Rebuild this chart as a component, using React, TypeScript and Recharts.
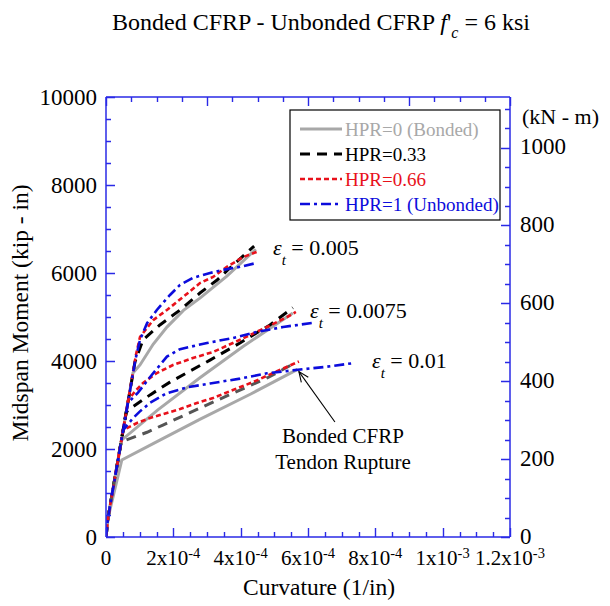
import React from 'react';
import { ComposedChart, Line, XAxis, YAxis } from 'recharts';

const FONT = "'Liberation Serif', 'Times New Roman', serif";
const AXIS_BLUE = '#2a2ae6';
const GRAY = '#a8a8a8';
const DARK = '#555555';
const RED = '#e8111b';
const BLUE = '#0c0cdc';

// curvature in 1e-4 (1/in), moment in kip-in
const E005_HPR0: [number, number][] = [[0, 0], [0.06, 430], [0.8, 3730], [1.01, 3910], [1.4, 4380], [1.81, 4770], [2.3, 5150], [2.79, 5430], [3.59, 5930], [4.45, 6540]];
const E005_HPR033: [number, number][] = [[0, 0], [0.06, 430], [0.86, 3980], [1.1, 4480], [1.6, 4820], [2.2, 5160], [2.79, 5545], [3.3, 5840], [3.77, 6180], [4.4, 6610]];
const E005_HPR066: [number, number][] = [[0, 0], [0.06, 430], [0.89, 4140], [1.01, 4545], [1.4, 4930], [1.81, 5160], [2.29, 5455], [2.79, 5770], [3.18, 5910], [3.59, 6140], [4.07, 6360], [4.48, 6480]];
const E005_HPR1: [number, number][] = [[0, 0], [0.06, 430], [0.87, 4020], [1.01, 4480], [1.22, 4860], [1.51, 5160], [1.9, 5500], [2.2, 5730], [2.58, 5890], [3.09, 6000], [3.48, 6070], [3.98, 6140], [4.48, 6230]];

const E0075_HPR0: [number, number][] = [[0, 0], [0.06, 430], [0.46, 2200], [1.54, 2890], [2.79, 3620], [4.07, 4330], [5.55, 5090]];
const E0075_HPR033: [number, number][] = [[0, 0], [0.06, 430], [0.6, 2840], [0.8, 2960], [1.31, 3230], [1.9, 3520], [2.49, 3770], [3.09, 4020], [3.98, 4410], [4.87, 4820], [5.55, 5210]];
const E0075_HPR066: [number, number][] = [[0, 0], [0.06, 430], [0.66, 3110], [0.85, 3300], [1.1, 3500], [1.51, 3727], [1.99, 3909], [2.58, 4068], [3.18, 4205], [3.77, 4409], [4.28, 4591], [4.78, 4773], [5.38, 5000], [5.64, 5114]];
const E0075_HPR1: [number, number][] = [[0, 0], [0.06, 430], [0.65, 3050], [0.95, 3280], [1.31, 3636], [1.81, 4100], [2.2, 4270], [3.0, 4409], [3.77, 4523], [4.48, 4659], [5.26, 4773], [6.12, 4864]];

const E001_HPR0: [number, number][] = [[0, 0], [0.06, 430], [0.47, 1750], [1.6, 2200], [2.8, 2680], [4.3, 3250], [5.69, 3810]];
const E001_HPR033: [number, number][] = [[0, 0], [0.06, 430], [0.45, 2160], [1.22, 2380], [1.69, 2545], [2.79, 2930], [3.98, 3340], [4.8, 3620], [5.6, 3950]];
const E001_HPR066: [number, number][] = [[0, 0], [0.06, 430], [0.51, 2430], [0.92, 2591], [1.31, 2705], [1.81, 2818], [2.2, 2909], [2.7, 3045], [3.18, 3159], [3.77, 3341], [4.37, 3523], [5.73, 3990]];
const E001_HPR1: [number, number][] = [[0, 0], [0.06, 430], [0.51, 2430], [0.8, 2700], [1.0, 2850], [1.31, 3050], [1.81, 3270], [2.41, 3400], [3.09, 3490], [3.98, 3600], [4.78, 3720], [5.7, 3800], [6.56, 3870], [7.33, 3950]];

const BOTTOM_TICK_LABELS = [['0', ''], ['2x10', '-4'], ['4x10', '-4'], ['6x10', '-4'], ['8x10', '-4'], ['1x10', '-3'], ['1.2x10', '-3']];
const TOP_TICK_LABELS = [['0', ''], ['1x10', '-5'], ['2x10', '-5'], ['4x10', '-5'], ['5x10', '-5']];
const LEFT_TICK_LABELS = ['0', '2000', '4000', '6000', '8000', '10000'];
const RIGHT_TICK_LABELS = ['0', '200', '400', '600', '800', '1000'];

const LEGEND = [
  { name: 'HPR=0 (Bonded)', color: GRAY, dash: undefined, width: 3 },
  { name: 'HPR=0.33', color: '#000', dash: '10 7', width: 3 },
  { name: 'HPR=0.66', color: RED, dash: '5 3', width: 2.6 },
  { name: 'HPR=1 (Unbonded)', color: BLUE, dash: '10 4 3 4', width: 2.6 },
];

const SERIES = [
  { data: E005_HPR0, ...LEGEND[0] },
  { data: E005_HPR033, ...LEGEND[1] },
  { data: E005_HPR066, ...LEGEND[2] },
  { data: E005_HPR1, ...LEGEND[3] },
  { data: E0075_HPR0, ...LEGEND[0] },
  { data: E0075_HPR033, ...LEGEND[1] },
  { data: E0075_HPR066, ...LEGEND[2] },
  { data: E0075_HPR1, ...LEGEND[3] },
  { data: E001_HPR0, ...LEGEND[0] },
  { data: E001_HPR033, ...LEGEND[1], color: DARK },
  { data: E001_HPR066, ...LEGEND[2] },
  { data: E001_HPR1, ...LEGEND[3] },
];

const KIP_IN_PER_KNM = 8.8507;
const RIGHT_MAX = 10000 / KIP_IN_PER_KNM;

const W = 600;
const H = 598;
const PLOT = { left: 98, right: 502, top: 89, bottom: 529 };

const bottomTicks = Array.from({ length: 25 }, (_, i) => i * 0.5);
const topTicks = Array.from({ length: 17 }, (_, i) => i);
const leftTicks = Array.from({ length: 21 }, (_, i) => i * 500);
const rightTicks = Array.from({ length: 23 }, (_, i) => i * 50);

const bottomTick = (props: any) => {
  const { x, y, payload } = props;
  const v = payload.value;
  const lab = v % 2 === 0 ? BOTTOM_TICK_LABELS[v / 2] : null;
  if (!lab) return <g />;
  return (
    <text x={x} y={y + 28} textAnchor="middle" fontFamily={FONT} fontSize={21} fill="#000">
      {lab[0]}
      {lab[1] && <tspan dy={-7} fontSize={14.5}>{lab[1]}</tspan>}
    </text>
  );
};

const topTick = (props: any) => {
  const { x, y, payload } = props;
  const v = payload.value;
  const lab = v % 4 === 0 ? TOP_TICK_LABELS[v / 4] : null;
  if (!lab) return <g />;
  return (
    <g>
      <text x={x} y={y - 15} textAnchor="middle" fontFamily={FONT} fontSize={20.5} fill="#000">
        {lab[0]}
        {lab[1] && <tspan dy={-10} fontSize={14.5}>{lab[1]}</tspan>}
      </text>
      {v === 16 && (
        <text x={x + 30} y={y - 15} textAnchor="start" fontFamily={FONT} fontSize={20.5} fill="#000">
          (1/mm)
        </text>
      )}
    </g>
  );
};

const leftTick = (props: any) => {
  const { x, y, payload } = props;
  const v = payload.value;
  if (v % 2000 !== 0) return <g />;
  return (
    <text x={x - 9} y={y} dy="0.35em" textAnchor="end" fontFamily={FONT} fontSize={23} fill="#000">
      {LEFT_TICK_LABELS[v / 2000]}
    </text>
  );
};

const rightTick = (props: any) => {
  const { x, y, payload } = props;
  const v = payload.value;
  if (v % 200 !== 0) return <g />;
  return (
    <text x={x + 10} y={y} dy="0.3em" textAnchor="start" fontFamily={FONT} fontSize={23} fill="#000">
      {RIGHT_TICK_LABELS[v / 200]}
    </text>
  );
};

// annotation arrow, in data units (curvature 1e-4/in, kip-in)
const ARROW_TIP: [number, number] = [5.73, 3760];
const ARROW_TAIL: [number, number] = [6.8, 2614];

const pw = PLOT.right - PLOT.left;
const ph = PLOT.bottom - PLOT.top;
const toPx = ([c, m]: [number, number]) => [PLOT.left + (c / 12) * pw, PLOT.bottom - (m / 10000) * ph];
const snap = (v: number) => Math.round(v) + 0.5;

// inward tick marks (the axes draw the labels)
const TickMarks = () => {
  const segs: string[] = [];
  bottomTicks.forEach((v) => {
    const x = snap(PLOT.left + (v / 12) * pw);
    segs.push(`M${x} ${PLOT.bottom} L${x} ${PLOT.bottom - (v % 2 === 0 ? 9 : 5)}`);
  });
  topTicks.forEach((v) => {
    const x = snap(PLOT.left + (v / 16) * pw);
    segs.push(`M${x} ${PLOT.top} L${x} ${PLOT.top + (v % 4 === 0 ? 9 : 5)}`);
  });
  leftTicks.forEach((v) => {
    const y = snap(PLOT.bottom - (v / 10000) * ph);
    segs.push(`M${PLOT.left} ${y} L${PLOT.left + (v % 2000 === 0 ? 9 : 5)} ${y}`);
  });
  rightTicks.forEach((v) => {
    const y = snap(PLOT.bottom - (v / RIGHT_MAX) * ph);
    segs.push(`M${PLOT.right} ${y} L${PLOT.right - (v % 200 === 0 ? 9 : 5)} ${y}`);
  });
  return <path d={segs.join(' ')} stroke={AXIS_BLUE} strokeWidth={1.4} fill="none" />;
};

const Overlay = () => {
  const [tx, ty] = toPx(ARROW_TIP);
  const [ex, ey] = toPx(ARROW_TAIL);
  const ang = Math.atan2(ey - ty, ex - tx);
  const hl = 11;
  const h1 = [tx + hl * Math.cos(ang + 0.4), ty + hl * Math.sin(ang + 0.4)];
  const h2 = [tx + hl * Math.cos(ang - 0.4), ty + hl * Math.sin(ang - 0.4)];
  return (
    <svg width={W} height={H} style={{ position: 'absolute', left: 0, top: 0, zIndex: 5, pointerEvents: 'none' }} fontFamily={FONT}>
      <TickMarks />
      <text x={104} y={22} fontSize={24} fill="#000">
        Bonded CFRP - Unbonded CFRP <tspan fontStyle="italic">f</tspan>
        <tspan>'</tspan>
        <tspan dy={8} fontSize={16} fontStyle="italic">c</tspan>
        <tspan dy={-8}> = 6 ksi</tspan>
      </text>
      <text x={514} y={116} fontSize={22} fill="#000">(kN - m)</text>
      <text x={20} y={305} transform="rotate(-90, 20, 305)" textAnchor="middle" fontSize={23.5} fill="#000">
        Midspan Moment (kip - in)
      </text>
      <text x={311} y={587} textAnchor="middle" fontSize={23.5} fill="#000">Curvature (1/in)</text>

      <text x={265} y={247} fontSize={22} fill="#000">
        <tspan fontStyle="italic">ε</tspan>
        <tspan dy={10} fontSize={15} fontStyle="italic">t</tspan>
        <tspan dy={-10}> = 0.005</tspan>
      </text>
      <text x={302} y={310} fontSize={22} fill="#000">
        <tspan fontStyle="italic">ε</tspan>
        <tspan dy={10} fontSize={15} fontStyle="italic">t</tspan>
        <tspan dy={-10}> = 0.0075</tspan>
      </text>
      <text x={364} y={360} fontSize={22} fill="#000">
        <tspan fontStyle="italic">ε</tspan>
        <tspan dy={10} fontSize={15} fontStyle="italic">t</tspan>
        <tspan dy={-10}> = 0.01</tspan>
      </text>

      <line x1={tx} y1={ty} x2={ex} y2={ey} stroke="#000" strokeWidth={1.1} />
      <polyline points={`${h1[0]},${h1[1]} ${tx},${ty} ${h2[0]},${h2[1]}`} fill="none" stroke="#000" strokeWidth={1.1} />
      <text x={335} y={435} textAnchor="middle" fontSize={21} fill="#000">Bonded CFRP</text>
      <text x={335} y={461} textAnchor="middle" fontSize={21} fill="#000">Tendon Rupture</text>

      <rect x={282} y={102} width={210} height={110} fill="#fff" stroke="#000" strokeWidth={1.2} />
      {LEGEND.map((l, i) => {
        const cy = 121 + i * 25;
        return (
          <g key={l.name}>
            <line x1={292} y1={cy} x2={334} y2={cy} stroke={l.color} strokeWidth={l.width} strokeDasharray={l.dash} />
            <text x={337} y={cy} dy="0.35em" fontSize={19} fill={l.color}>{l.name}</text>
          </g>
        );
      })}
    </svg>
  );
};

export default function App() {
  return (
    <div style={{ position: 'relative', width: W, height: H }}>
      <ComposedChart width={W} height={H} margin={{ top: 0, right: 0, bottom: 0, left: 0 }}>
        <XAxis
          xAxisId="bottom"
          dataKey="x"
          type="number"
          domain={[0, 12]}
          allowDataOverflow
          ticks={bottomTicks}
          interval={0}
          height={H - PLOT.bottom}
          tickSize={0}
          tickMargin={0}
          tickLine={false}
          tick={bottomTick}
          axisLine={{ stroke: AXIS_BLUE, strokeWidth: 1.5 }}
        />
        <XAxis
          xAxisId="top"
          orientation="top"
          type="number"
          domain={[0, 16]}
          allowDataOverflow
          ticks={topTicks}
          interval={0}
          height={PLOT.top}
          tickSize={0}
          tickMargin={0}
          tickLine={false}
          tick={topTick}
          axisLine={{ stroke: AXIS_BLUE, strokeWidth: 1.5 }}
        />
        <YAxis
          yAxisId="left"
          type="number"
          domain={[0, 10000]}
          allowDataOverflow
          ticks={leftTicks}
          interval={0}
          width={PLOT.left}
          tickSize={0}
          tickMargin={0}
          tickLine={false}
          tick={leftTick}
          axisLine={{ stroke: AXIS_BLUE, strokeWidth: 1.5 }}
        />
        <YAxis
          yAxisId="right"
          orientation="right"
          type="number"
          domain={[0, RIGHT_MAX]}
          allowDataOverflow
          ticks={rightTicks}
          interval={0}
          width={W - PLOT.right}
          tickSize={0}
          tickMargin={0}
          tickLine={false}
          tick={rightTick}
          axisLine={{ stroke: AXIS_BLUE, strokeWidth: 1.5 }}
        />
        {SERIES.map((s, i) => (
          <Line
            key={i}
            xAxisId="bottom"
            yAxisId="left"
            data={s.data.map(([x, y]) => ({ x, y }))}
            dataKey="y"
            type="linear"
            stroke={s.color}
            strokeWidth={s.width}
            strokeDasharray={s.dash}
            dot={false}
            activeDot={false}
            isAnimationActive={false}
          />
        ))}
      </ComposedChart>
      <Overlay />
    </div>
  );
}
